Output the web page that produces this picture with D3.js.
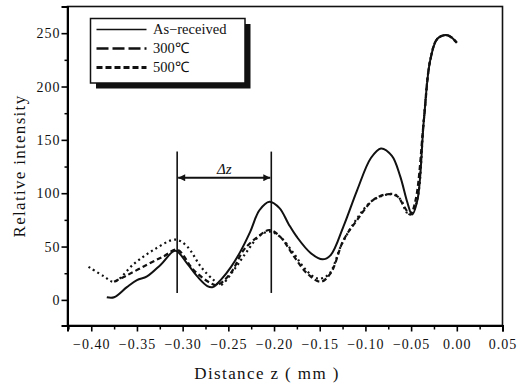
<!DOCTYPE html>
<html><head><meta charset="utf-8">
<script src="https://cdn.jsdelivr.net/npm/d3@7"></script>
<style>
html,body{margin:0;padding:0;background:#fff;}
svg{display:block;}
text{fill:#111;font-family:"Liberation Serif","Times New Roman",serif;}
</style></head>
<body>
<script>
// ---- data ----
const asReceivedZ = [-0.383,-0.375,-0.361,-0.350,-0.339,-0.324,-0.308,-0.295,-0.284,-0.273,-0.267,-0.258,-0.247,-0.237,-0.226,-0.216,-0.205,-0.194,-0.184,-0.175,-0.160,-0.147,-0.138,-0.124,-0.109,-0.094,-0.083,-0.071,-0.062,-0.054,-0.049,-0.043,-0.036,-0.029,-0.021,-0.010,0.000];
const asReceivedI = [2.5,2.5,12,18.5,22,33,46,34,22,13,12,19,31,45,64,84,92,86,71,59,44,38,42,69,103,133,142,135,116,91,80,94,169,225,245,248,241];

const t300Z = [-0.375,-0.361,-0.339,-0.3205,-0.306,-0.288,-0.269,-0.262,-0.2475,-0.233,-0.218,-0.205,-0.193,-0.178,-0.164,-0.149,-0.138,-0.124,-0.109,-0.091,-0.076,-0.065,-0.058,-0.051,-0.045,-0.036,-0.029,-0.021,-0.010,0.000];
const t300I = [17,23,33,41,47,28,15.5,14,25,47,59,65.5,59,40.5,25,17,25,56,75,94,99,97,88,80,94,169,225,245,248,241];

const t500Z = [-0.403,-0.386,-0.375,-0.353,-0.3315,-0.308,-0.295,-0.280,-0.266,-0.2585,-0.244,-0.230,-0.216,-0.204,-0.192,-0.178,-0.165,-0.152,-0.140,-0.126,-0.111,-0.094,-0.080,-0.068,-0.060,-0.055,-0.049,-0.043,-0.036,-0.029,-0.021,-0.010,0.000];
const t500I = [31,22,17,34,47,56.5,50,31,18.5,14,28,45,60,64,58,43,28,20,24,52,74,92,98,99,92,82,82,95,170,225,245,248,241];

const xTicks = [-0.40,-0.35,-0.30,-0.25,-0.20,-0.15,-0.10,-0.05,0.00,0.05];
const xTickLabels = ["\u22120.40","\u22120.35","\u22120.30","\u22120.25","\u22120.20","\u22120.15","\u22120.10","\u22120.05","0.00","0.05"];
const xMinorTicks = [-0.425,-0.375,-0.325,-0.275,-0.225,-0.175,-0.125,-0.075,-0.025,0.025];
const yTicks = [0,50,100,150,200,250];
const yMinorTicks = [25,75,125,175,225];

const seriesNames = ["As\u2212received","300\u2103","500\u2103"];
const deltaZ = [-0.306,-0.203];   // positions of the two Δz marker lines
const deltaZLabel = "\u0394z";

// ---- layout ----
const W = 519, H = 388;
const m = {left:67.5, right:16.5, top:6.5, bottom:62.5};
const svg = d3.select("body").append("svg").attr("width",W).attr("height",H);

const x = d3.scaleLinear().domain([-0.426,0.05]).range([m.left, W-m.right]);
const y = d3.scaleLinear().domain([-24,275]).range([H-m.bottom, m.top]);

const line = d3.line().x(d=>x(d[0])).y(d=>y(d[1])).curve(d3.curveCatmullRom.alpha(0.5));

function pts(zs, is){ return zs.map((z,i)=>[z,is[i]]); }

// curves
svg.append("path").attr("d", line(pts(t500Z,t500I)))
  .attr("fill","none").attr("stroke","#111").attr("stroke-width",2.2)
  .attr("stroke-dasharray","2,3.2").attr("stroke-linecap","butt");
svg.append("path").attr("d", line(pts(t300Z,t300I)))
  .attr("fill","none").attr("stroke","#111").attr("stroke-width",2.2)
  .attr("stroke-dasharray","5,3");
svg.append("path").attr("d", line(pts(asReceivedZ,asReceivedI)))
  .attr("fill","none").attr("stroke","#111").attr("stroke-width",2);

// frame
svg.append("rect").attr("x",x(-0.426)).attr("y",y(275))
  .attr("width",x(0.05)-x(-0.426)).attr("height",y(-24)-y(275))
  .attr("fill","none").attr("stroke","#111").attr("stroke-width",1.6);

const tickFont = g => g.selectAll("text")
  .attr("font-family","'Liberation Serif', serif").attr("font-size",14)
  .attr("letter-spacing","1px").attr("fill","#111");

// axes
const xAxis = d3.axisBottom(x).tickValues(xTicks).tickSize(6)
  .tickFormat((d,i)=>xTickLabels[i]).tickPadding(8);
const gx = svg.append("g").attr("transform",`translate(0,${y(-24)})`).call(xAxis);
gx.select(".domain").attr("stroke-width",2);
gx.selectAll(".tick line").attr("stroke-width",1.6);
gx.call(tickFont);
svg.append("g").attr("transform",`translate(0,${y(-24)})`)
  .call(d3.axisBottom(x).tickValues(xMinorTicks).tickSize(4).tickFormat(""))
  .call(g=>{g.select(".domain").remove(); g.selectAll("line").attr("stroke-width",1.5);});

const yAxis = d3.axisLeft(y).tickValues(yTicks).tickSize(6).tickPadding(1);
const gy = svg.append("g").attr("transform",`translate(${x(-0.426)},0)`).call(yAxis);
gy.select(".domain").attr("stroke-width",2);
gy.selectAll(".tick line").attr("stroke-width",1.6);
gy.call(tickFont);
svg.append("g").attr("transform",`translate(${x(-0.426)},0)`)
  .call(d3.axisLeft(y).tickValues(yMinorTicks).tickSize(3).tickFormat(""))
  .call(g=>{g.select(".domain").remove(); g.selectAll("line").attr("stroke-width",1.5);});

// axis titles
svg.append("text").attr("x",267).attr("y",379).attr("text-anchor","middle")
  .attr("font-family","'Liberation Serif', serif").attr("font-size",17)
  .attr("letter-spacing","1.4px")
  .text("Distance z ( mm )");
svg.append("text").attr("transform","translate(25,166) rotate(-90)").attr("text-anchor","middle")
  .attr("font-family","'Liberation Serif', serif").attr("font-size",17)
  .attr("letter-spacing","1.3px")
  .text("Relative intensity");

// Δz annotation
const defs = svg.append("defs");
defs.append("marker").attr("id","ah").attr("viewBox","0 0 10 10").attr("refX",10).attr("refY",5)
  .attr("markerWidth",9).attr("markerHeight",7).attr("markerUnits","userSpaceOnUse").attr("orient","auto-start-reverse")
  .append("path").attr("d","M0,0 L10,5 L0,10 Z").attr("fill","#111");
deltaZ.forEach(z=>{
  svg.append("line").attr("x1",x(z)).attr("x2",x(z)).attr("y1",y(139)).attr("y2",y(6.5))
    .attr("stroke","#111").attr("stroke-width",1.6);
});
svg.append("line").attr("x1",x(deltaZ[0])+1).attr("x2",x(deltaZ[1])-1)
  .attr("y1",y(114.5)).attr("y2",y(114.5))
  .attr("stroke","#111").attr("stroke-width",2)
  .attr("marker-start","url(#ah)").attr("marker-end","url(#ah)");
svg.append("text").attr("x",(x(deltaZ[0])+x(deltaZ[1]))/2).attr("y",y(114.5)-4)
  .attr("text-anchor","middle").attr("font-family","'Liberation Serif', serif")
  .attr("font-style","italic").attr("font-size",15).text(deltaZLabel);

// legend
const lg = svg.append("g");
lg.append("rect").attr("x",96).attr("y",24).attr("width",154.5).attr("height",64.5).attr("fill","#111");
lg.append("rect").attr("x",90.5).attr("y",18.5).attr("width",154.5).attr("height",64.5)
  .attr("fill","#fff").attr("stroke","#111").attr("stroke-width",1.5);
const lgStyles = [{dash:null,w:1.6},{dash:"12,4",w:2.6},{dash:"6,3",w:3}];
const lgRows = [29.5,48.5,67.5];
seriesNames.forEach((nm,i)=>{
  lg.append("line").attr("x1",96.5).attr("x2",146.5).attr("y1",lgRows[i]).attr("y2",lgRows[i])
    .attr("stroke","#111").attr("stroke-width",lgStyles[i].w)
    .attr("stroke-dasharray",lgStyles[i].dash);
  lg.append("text").attr("x",153).attr("y",lgRows[i]+4.5)
    .attr("font-family","'Liberation Serif', serif").attr("font-size",14.5).text(nm);
});
</script>
</body></html>
